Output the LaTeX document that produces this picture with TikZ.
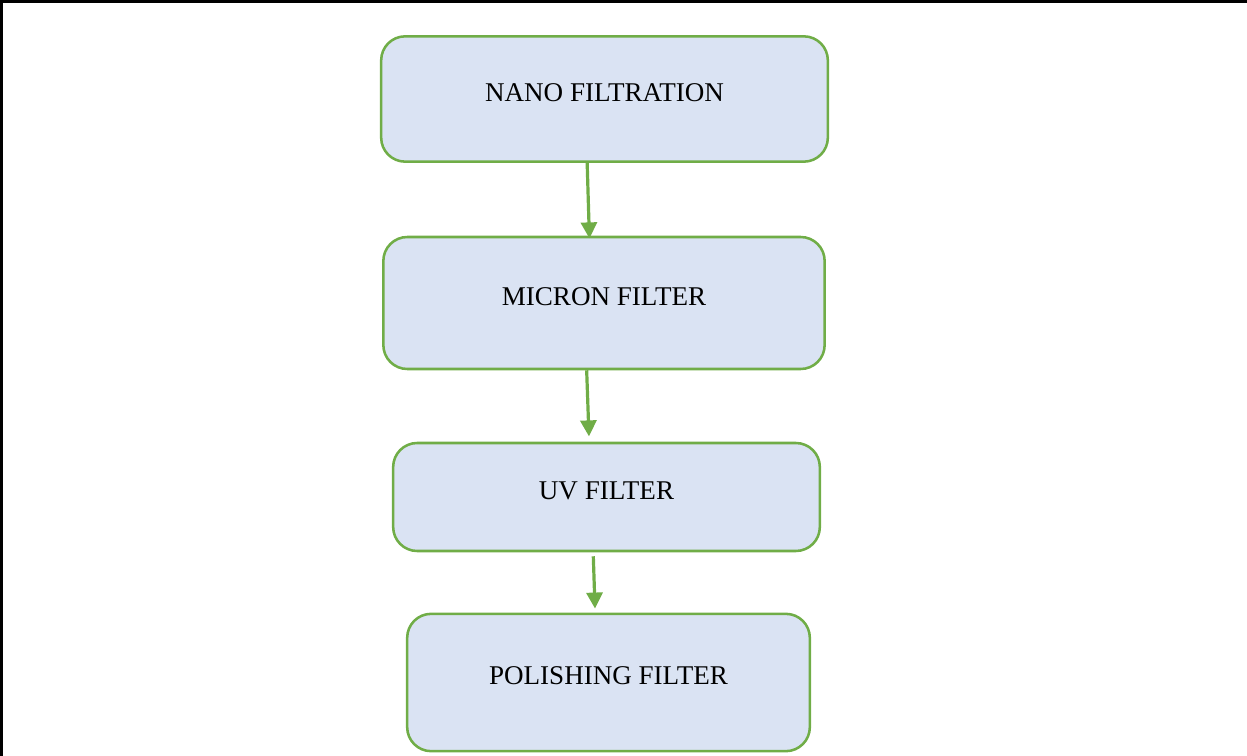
\documentclass[tikz,border=0pt]{standalone}
\usepackage{fontspec}
\setmainfont{Liberation Serif}
\usepackage{tikz}
\usetikzlibrary{arrows.meta}

\definecolor{boxgreen}{HTML}{70AD47}
\definecolor{boxblue}{HTML}{DAE3F3}

\tikzset{
    stagebox/.style={draw=boxgreen, fill=boxblue, line width=1.9pt, rounded corners=18pt,
        inner sep=0pt, text depth=10pt, font=\fontsize{20.3}{24}\selectfont},
    flowarrow/.style={draw=boxgreen, line width=2.4pt, -{Triangle[length=12pt,width=12pt]}}
}

\begin{document}
\begin{tikzpicture}[x=0.75pt,y=0.75pt,yscale=-1,xscale=1]
        \useasboundingbox (0,0) rectangle (1247,756);
        \draw [line width=2.6pt] (1.5,756) -- (1.5,1.5) -- (1247,1.5);
        \node (nano) [stagebox, minimum width=335pt, minimum height=94pt] at (604.5,99) {NANO FILTRATION};
        \node (micron) [stagebox, minimum width=331pt, minimum height=99pt] at (604,303) {MICRON FILTER};
        \node (uv) [stagebox, minimum width=320pt, minimum height=81pt] at (606.5,497) {UV FILTER};
        \node (polish) [stagebox, minimum width=302pt, minimum height=103pt] at (608.5,682.5) {POLISHING FILTER};
        \draw [flowarrow, shorten >=-2pt] ([xshift=-13pt]nano.south) -- ([xshift=-11pt]micron.north);
        \draw [flowarrow, shorten >=4pt] ([xshift=-13pt]micron.south) -- ([xshift=-13pt]uv.north);
        \draw [flowarrow, shorten <=3pt, shorten >=3pt] ([xshift=-10pt]uv.south) -- ([xshift=-10pt]polish.north);
    \end{tikzpicture}
\end{document}
